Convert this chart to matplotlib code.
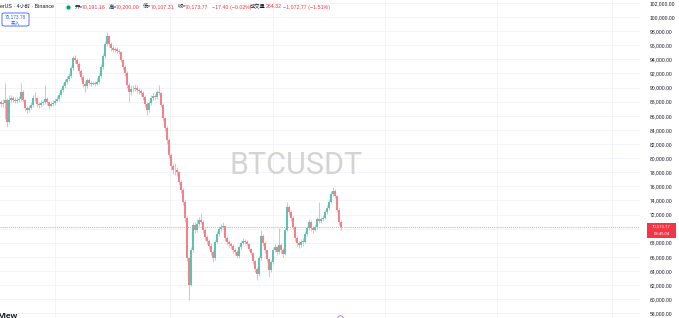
"""BTCUSDT candles, TradingView-style screenshot recreation."""

import matplotlib
matplotlib.use("Agg")
import matplotlib.pyplot as plt
from matplotlib.patches import FancyBboxPatch, Rectangle

plt.rcParams["font.family"] = ["Liberation Sans", "Noto Sans CJK SC", "DejaVu Sans"]

# prices in thousands of USDT, one candle per column
first_open = 87.90
closes = [
    87.68, 87.82, 88.25, 85.13, 88.25, 88.53, 88.25, 88.11, 88.25, 88.39,
    89.38, 88.25, 87.11, 86.83, 87.11, 87.54, 88.53, 88.53, 87.68, 87.54,
    87.82, 87.97, 88.39, 87.97, 87.40, 87.68, 87.82, 88.11, 88.39, 88.96,
    89.67, 90.24, 90.80, 91.23, 91.65, 92.79, 94.21, 93.92, 93.35, 92.36,
    91.51, 90.52, 90.24, 91.09, 90.66, 90.52, 90.66, 90.52, 90.80, 91.65,
    92.93, 94.49, 96.19, 97.33, 96.19, 95.62, 95.34, 95.48, 95.20, 95.06,
    93.92, 92.93, 92.08, 90.38, 89.38, 89.81, 89.81, 89.95, 89.67, 89.53,
    89.24, 88.68, 87.68, 86.83, 87.82, 88.53, 88.82, 88.68, 89.38, 89.24,
    87.54, 85.70, 84.28, 82.58, 80.45, 78.89, 78.32, 78.32, 78.04, 76.62,
    75.49, 73.79, 71.52, 65.80, 62.00, 67.00, 70.52, 69.82, 70.67, 71.24,
    70.95, 69.82, 68.82, 68.26, 67.55, 66.70, 65.85, 68.12, 69.25, 69.96,
    70.24, 70.38, 68.68, 68.12, 67.83, 67.55, 66.98, 66.70, 66.13, 67.41,
    67.97, 68.26, 68.12, 67.83, 67.12, 66.56, 65.42, 64.28, 63.58, 65.84,
    68.96, 67.97, 66.98, 65.70, 64.14, 65.28, 66.98, 67.41, 66.70, 67.69,
    66.98, 66.41, 69.82, 73.08, 72.37, 71.52, 70.24, 68.68, 67.97, 67.69,
    68.12, 68.12, 69.25, 70.10, 70.95, 70.10, 69.82, 70.24, 71.38, 71.09,
    71.30, 71.52, 72.37, 72.94, 73.79, 74.92, 75.35, 74.64, 72.65, 70.95,
    70.17,
]
highs = [
    88.30, 88.40, 90.66, 88.50, 88.90, 89.00, 88.80, 88.60, 88.60, 88.80,
    90.66, 89.60, 88.40, 87.40, 87.50, 87.90, 88.90, 89.38, 88.70, 88.00,
    88.20, 88.30, 90.38, 88.60, 88.10, 88.00, 88.20, 88.50, 88.80, 89.30,
    90.00, 90.60, 91.20, 91.60, 92.00, 93.10, 94.50, 94.63, 94.20, 93.60,
    92.60, 91.80, 90.90, 91.40, 91.30, 91.00, 91.00, 90.90, 91.30, 92.10,
    93.30, 94.90, 96.60, 97.89, 97.50, 96.40, 95.90, 95.80, 95.70, 95.50,
    95.20, 94.10, 93.20, 92.30, 90.60, 90.30, 90.40, 90.50, 90.30, 90.00,
    89.80, 89.50, 88.90, 87.90, 88.10, 88.90, 89.20, 89.10, 89.70, 90.38,
    89.40, 87.80, 85.90, 84.50, 82.80, 80.70, 79.20, 79.32, 78.70, 78.20,
    76.90, 75.70, 74.00, 71.80, 66.00, 67.40, 71.00, 71.00, 71.30, 71.60,
    72.23, 71.20, 70.10, 69.10, 68.50, 67.90, 66.90, 68.40, 69.60, 70.30,
    70.60, 70.95, 70.50, 68.90, 68.40, 68.10, 67.80, 67.20, 66.90, 67.70,
    68.30, 68.60, 68.50, 68.40, 68.00, 67.30, 66.70, 65.60, 64.50, 66.10,
    69.82, 69.20, 68.20, 67.10, 65.90, 65.60, 67.30, 67.80, 67.60, 70.10,
    67.90, 67.20, 70.10, 73.79, 73.30, 72.60, 71.80, 70.40, 68.90, 68.20,
    68.50, 68.60, 69.60, 70.40, 71.40, 71.20, 70.40, 70.70, 71.70, 73.79,
    71.60, 71.90, 72.70, 73.30, 74.20, 75.30, 75.91, 75.60, 74.80, 72.90,
    71.20,
]
lows = [
    87.30, 87.20, 85.60, 84.42, 85.00, 87.90, 87.90, 87.80, 87.80, 88.00,
    88.10, 87.90, 86.70, 86.40, 86.60, 86.90, 87.30, 88.10, 87.20, 87.10,
    87.30, 87.60, 87.70, 87.50, 87.00, 87.20, 87.40, 87.60, 87.90, 88.10,
    88.70, 89.40, 89.90, 90.50, 90.90, 91.40, 92.50, 93.50, 92.90, 91.90,
    91.10, 90.10, 89.38, 89.90, 90.30, 90.20, 90.30, 90.20, 90.30, 90.60,
    91.40, 92.70, 94.20, 95.90, 95.80, 95.20, 95.00, 95.00, 94.90, 94.70,
    93.60, 92.50, 91.60, 89.90, 87.97, 89.00, 89.40, 89.50, 89.20, 89.10,
    88.80, 88.30, 87.30, 86.12, 86.60, 87.60, 88.30, 88.20, 88.40, 88.90,
    87.20, 85.30, 83.80, 82.00, 80.00, 78.30, 77.80, 77.60, 77.50, 76.20,
    75.00, 73.30, 71.00, 65.40, 59.89, 61.80, 66.70, 69.40, 69.50, 70.40,
    70.60, 69.40, 68.40, 67.80, 67.10, 66.30, 65.28, 65.60, 67.90, 69.00,
    69.70, 70.00, 68.30, 67.70, 67.40, 67.10, 66.60, 66.30, 65.85, 65.90,
    67.10, 67.80, 67.80, 67.50, 66.80, 66.20, 65.00, 63.90, 62.73, 63.30,
    65.60, 67.60, 66.60, 65.30, 63.15, 63.90, 65.00, 66.70, 66.30, 66.40,
    66.60, 66.00, 66.20, 69.60, 72.00, 71.10, 69.90, 68.30, 67.60, 67.30,
    67.40, 67.60, 67.90, 69.00, 69.80, 69.60, 69.40, 69.60, 70.00, 70.80,
    70.80, 71.10, 71.30, 72.10, 72.70, 73.60, 74.60, 74.30, 72.30, 70.50,
    69.75,
]
month_lines = [27, 84.5, 136, 192, 248, 305.5]
last_price = 70173.77
price_ticks = list(range(58000, 102001, 2000))
hidden_tick = 70000  # covered by the last-price tag

UP = "#5cc4ae"
DOWN = "#f6808a"
RED = "#f23645"
DARK = "#131722"

W, H = 679, 318
fig = plt.figure(figsize=(W / 100, H / 100), dpi=100)
ax = fig.add_axes([0, 0, 640 / W, 1])


def fx(px):
    return px / W


def fy(py):
    return 1 - py / H


opens = [first_open] + closes[:-1]
idx = list(range(len(closes)))
o = [v * 1000 for v in opens]
c = [v * 1000 for v in closes]
h = [v * 1000 for v in highs]
l = [v * 1000 for v in lows]
cols = [UP if cc >= oo else DOWN for oo, cc in zip(o, c)]

ax.vlines(idx, l, h, colors=cols, linewidth=0.4, zorder=3)
bottoms = [min(oo, cc) for oo, cc in zip(o, c)]
heights = [max(abs(cc - oo), 60) for oo, cc in zip(o, c)]
ax.bar(idx, heights, bottom=bottoms, width=0.55, color=cols, linewidth=0, zorder=4)

ax.set_xlim(-0.5, 319.5)
ax.set_ylim(57320, 102425)

for p in price_ticks:
    ax.axhline(p, color="#f0f3fa", linewidth=0.6, zorder=0)
for m in month_lines:
    ax.axvline(m, color="#f0f3fa", linewidth=0.6, zorder=0)

ax.axhline(last_price, color="#f5707b", linewidth=0.5, linestyle=(0, (1.5, 1.5)), zorder=2)

ax.yaxis.tick_right()
ax.set_yticks(price_ticks)
ax.set_yticklabels(["" if p == hidden_tick else f"{p:,.2f}" for p in price_ticks],
                   fontsize=3.6, color=DARK)
ax.tick_params(axis="y", length=0, pad=7)
ax.set_xticks([])
for s in ax.spines.values():
    s.set_visible(False)

# watermark
ax.text(0.4625, fy(165), "BTCUSDT", transform=ax.transAxes, fontsize=22,
        family="Roboto", color="#d4d4d4", ha="center", va="center", zorder=1)

# price tag on the scale
fig.patches.append(Rectangle((fx(647), fy(237.5)), fx(29), 15 / H, transform=fig.transFigure,
                             facecolor=RED, edgecolor="none", zorder=5))
fig.text(fx(661.5), fy(226.3), "70,173.77", fontsize=3.1, color="white",
         ha="center", va="center", zorder=6)
fig.text(fx(661.5), fy(233.8), "03:45:04", fontsize=3.1, color="white",
         ha="center", va="center", zorder=6)

# header legend
hy = fy(7)
fig.text(fx(0), hy, "erUS · 4小时 · Binance", fontsize=3.8, color=DARK, va="center")
fig.lines.append(plt.Line2D([fx(68)], [hy], marker="o", markersize=3.4, color="#cdeee6",
                            transform=fig.transFigure))
fig.lines.append(plt.Line2D([fx(68)], [hy], marker="o", markersize=1.8, color="#089981",
                            transform=fig.transFigure))
parts = [
    (75, "开=", DARK), (82, "70,191.16", RED),
    (109, "高=", DARK), (116, "70,200.00", RED),
    (143, "低=", DARK), (151, "70,107.31", RED),
    (178, "收=", DARK), (185, "70,173.77", RED),
    (212, "−17.40 (−0.02%)", RED),
    (250, "成交量", DARK), (266, "264.32", RED),
    (283, "−1,072.77 (−1.51%)", RED),
]
for px, txt, col in parts:
    fig.text(fx(px), hy, txt, fontsize=3.8, color=col, va="center")

# buy button
fig.patches.append(FancyBboxPatch((fx(2), fy(26)), fx(27), 13 / H,
                                  boxstyle="round,pad=0,rounding_size=0.004",
                                  transform=fig.transFigure, facecolor="white",
                                  edgecolor="#2962ff", linewidth=0.6))
fig.text(fx(15.5), fy(17), "70,173.78", fontsize=3.4, color="#2962ff",
         ha="center", va="center", zorder=6)
fig.text(fx(15.5), fy(23), "买入", fontsize=3.4, color="#2962ff",
         ha="center", va="center", zorder=6)

# bits cut off at the bottom edge
fig.text(fx(-1), fy(313), "View", fontsize=6, weight="bold", color=DARK, va="top")
fig.lines.append(plt.Line2D([fx(340)], [fy(318)], marker="o", markersize=4, color="none",
                            markeredgecolor="#c58be0", markeredgewidth=0.8,
                            transform=fig.transFigure))

fig.savefig("out.png", dpi=100)
